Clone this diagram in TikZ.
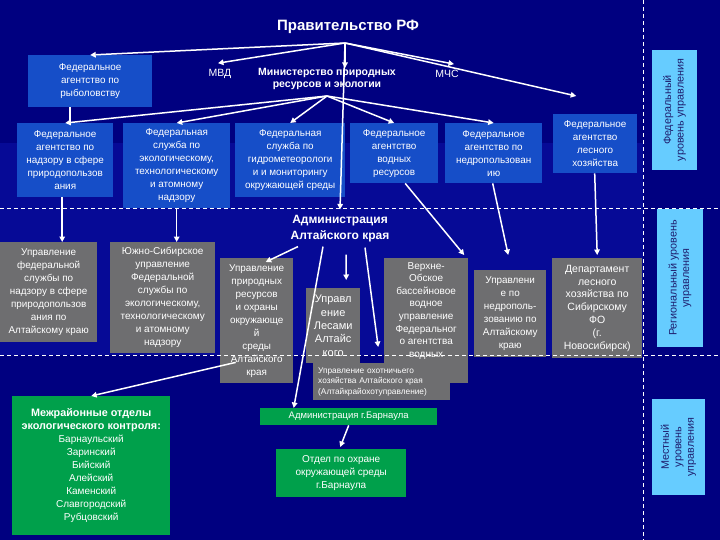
\documentclass[tikz,border=0pt]{standalone}
\usepackage{fontspec}
\setmainfont{Liberation Sans}
\usetikzlibrary{arrows.meta,calc}
\definecolor{bgnavy}{RGB}{0,0,128}
\definecolor{bgband}{RGB}{6,10,150}
\definecolor{boxblue}{RGB}{22,78,200}
\definecolor{boxgrey}{RGB}{110,110,112}
\definecolor{boxgreen}{RGB}{0,160,75}
\definecolor{levblue}{RGB}{102,204,255}
\definecolor{levtext}{RGB}{30,30,110}
\newcommand\hdrfnt{\bfseries\fontsize{10.8}{13}\selectfont}
\begin{document}
\begin{tikzpicture}[x=1pt,y=-1pt,
  box/.style={anchor=north west, inner sep=0pt, align=center, text=white,
    font=\fontsize{9.9}{13}\selectfont},
  bluebox/.style={box, fill=boxblue},
  greybox/.style={box, fill=boxgrey},
  greenbox/.style={box, fill=boxgreen, font=\fontsize{10}{13}\selectfont},
  levbox/.style={fill=levblue, rotate=90, inner sep=0pt, align=center, text=levtext,
    font=\fontsize{10.8}{12.5}\selectfont},
  plain/.style={text=white, inner sep=0pt, align=center},
  arr/.style={draw=white, line width=1.5pt, -{Triangle[length=5.5pt,width=5.5pt]}},
  ln/.style={draw=white, line width=1.5pt},
  dashline/.style={draw=white, line width=0.7pt, dash pattern=on 4pt off 3pt}
]
\useasboundingbox (0,0) rectangle (720,540);
\fill[bgnavy] (0,0) rectangle (720,540);
\fill[bgband] (0,143) rectangle (643,355);

% ---- federal level
\node[plain, font=\bfseries\fontsize{15}{17}\selectfont] (gov) at (348,27) {Правительство РФ};
\coordinate (govc) at (345,43);
\node[plain, font=\fontsize{10.5}{12}\selectfont] (mvd) at (220,74) {МВД};
\node[plain, font=\bfseries\fontsize{10.5}{12.5}\selectfont] (min) at (327,79) {Министерство природных\\ресурсов и экологии};
\coordinate (minc) at (327,96);
\node[plain, font=\fontsize{10.5}{12}\selectfont] (mchs) at (447,74) {МЧС};

\node[bluebox, minimum width=124pt, minimum height=52pt] (fish) at (28,55) {Федеральное\\агентство по\\рыболовству};
\node[bluebox, minimum width=96pt, minimum height=74pt] (nadz) at (17,123) {Федеральное\\агентство по\\надзору в сфере\\природопользов\\ания};
\node[bluebox, minimum width=107pt, minimum height=85pt] (eco) at (123,123) {Федеральная\\служба по\\экологическому,\\технологическому\\и атомному\\надзору};
\node[bluebox, minimum width=110pt, minimum height=74pt] (hydro) at (235,123) {Федеральная\\служба по\\гидрометеорологи\\и и мониторингу\\окружающей среды};
\node[bluebox, minimum width=88pt, minimum height=60pt] (water) at (350,123) {Федеральное\\агентство\\водных\\ресурсов};
\node[bluebox, minimum width=97pt, minimum height=60pt] (nedra) at (445,123) {Федеральное\\агентство по\\недропользован\\ию};
\node[bluebox, minimum width=84pt, minimum height=59pt] (forest) at (553,114) {Федеральное\\агентство\\лесного\\хозяйства};

% ---- regional level
\node[plain, font=\bfseries\fontsize{12}{16}\selectfont] (adm) at (340,229) {Администрация\\Алтайского края};

\node[greybox, minimum width=97pt, minimum height=100pt] (rnadz) at (0,242) {Управление\\федеральной\\службы по\\надзору в сфере\\природопользов\\ания по\\Алтайскому краю};
\node[greybox, minimum width=105pt, minimum height=111pt, font=\fontsize{10}{13}\selectfont] (yusib) at (110,242) {Южно-Сибирское\\управление\\Федеральной\\службы по\\экологическому,\\технологическому\\и атомному\\надзору};
\node[greybox, minimum width=73pt, minimum height=125pt] (upr) at (220,258) {Управление\\природных\\ресурсов\\и охраны\\окружающе\\й\\среды\\Алтайского\\края};
\node[greybox, minimum width=54pt, minimum height=75pt, font=\fontsize{11}{13.3}\selectfont] (lesa) at (306,288) {Управл\\ение\\Лесами\\Алтайс\\кого};
\node[greybox, minimum width=84pt, minimum height=125pt, font=\fontsize{10}{12.6}\selectfont] (vo) at (384,258) {};
\node[anchor=north, inner sep=0pt, align=center, text=white, font=\fontsize{10}{12.6}\selectfont] (votext) at ([yshift=-4]vo.north) {Верхне-\\Обское\\бассейновое\\водное\\управление\\Федеральног\\о агентства\\водных};
\node[greybox, minimum width=137pt, minimum height=37pt, align=left, text width=127pt, inner xsep=5pt, font=\fontsize{8.3}{10.5}\selectfont] (hunt) at (313,363) {Управление охотничьего\\хозяйства Алтайского края\\(Алтайкрайохотуправление)};
\node[greybox, minimum width=72pt, minimum height=87pt] (nedr2) at (474,270) {Управлени\\е по\\недрополь-\\зованию по\\Алтайскому\\краю};
\node[greybox, minimum width=90pt, minimum height=100pt, font=\fontsize{10.5}{12.8}\selectfont] (dept) at (552,258) {Департамент\\лесного\\хозяйства по\\Сибирскому\\ФО\\(г.\\Новосибирск)};

% ---- local level
\node[greenbox, minimum width=158pt, minimum height=139pt] (inter) at (12,396) {{\hdrfnt Межрайонные отделы}\\{\hdrfnt экологического контроля:}\\Барнаульский\\Заринский\\Бийский\\Алейский\\Каменский\\Славгородский\\Рубцовский};
\node[greenbox, minimum width=177pt, minimum height=17pt, font=\fontsize{9.5}{11}\selectfont] (admb) at (260,408) {Администрация г.Барнаула};
\node[greenbox, minimum width=130pt, minimum height=48pt] (otdel) at (276,449) {Отдел по охране\\окружающей среды\\г.Барнаула};

% ---- level labels
\node[levbox, minimum width=120pt, minimum height=45pt] (lev1) at (674.5,110) {Федеральный\\уровень управления};
\node[levbox, minimum width=138pt, minimum height=46pt] (lev2) at (680,278) {Региональный уровень\\управления};
\node[levbox, minimum width=96pt, minimum height=53pt] (lev3) at (678.5,447) {Местный\\уровень\\управления};

% ---- dashed separators
\draw[dashline] (0,208) -- (720,208);
\draw[dashline] (0,355) -- (720,355);
\draw[dashline] (643,0) -- (643,540);

% ---- connectors from government
\draw[arr] (govc) -- (fish.north);
\draw[arr] (govc) -- ([shift={(-2,-6)}]mvd.north);
\draw[arr] (govc) -- (345,68) coordinate (minarr);
\draw[arr] (govc) -- ([yshift=6]adm.north);
\draw[arr] (govc) -- ([shift={(7,-6)}]mchs.north);
\draw[arr] (govc) -- ([shift={(-19,-18)}]forest.north);

% ---- connectors from ministry
\draw[arr] (minc) -- (nadz.north);
\draw[arr] (minc) -- (eco.north);
\draw[arr] (minc) -- (hydro.north);
\draw[arr] (minc) -- (water.north);
\draw[arr] (minc) -- (nedra.north);
\draw[ln] ([xshift=-20]fish.south) -- ([xshift=-20]fish.south |- nadz.north);

% ---- federal to regional
\draw[arr] ([xshift=-3]nadz.south) -- ([xshift=-3]nadz.south |- rnadz.north);
\draw[arr] (eco.south) -- (eco.south |- yusib.north);
\draw[arr] ([xshift=11]water.south) -- ([shift={(38,-3)}]vo.north);
\draw[arr] ([xshift=-1]nedra.south) -- ([shift={(-2,-15)}]nedr2.north);
\draw[arr] ([xshift=-0.5]forest.south) -- ([shift={(0,-3)}]dept.north);

% ---- from Altai administration
\draw[arr] ([shift={(-42,4)}]adm.south) -- ([shift={(9,4)}]upr.north);
\draw[arr] ([shift={(6,12)}]adm.south) -- ([shift={(13,-8)}]lesa.north);
\draw[arr] ([shift={(25,5)}]adm.south) -- ([shift={(-3.5,-16)}]hunt.north);
\draw[arr] ([shift={(-17,4)}]adm.south) -- ([shift={(-55,0)}]admb.north);

% ---- regional to local
\draw[arr] ([shift={(-21,-21)}]upr.south) -- (inter.north);
\draw[arr] (admb.south) -- ([shift={(-1,-2)}]otdel.north);
\end{tikzpicture}
\end{document}
